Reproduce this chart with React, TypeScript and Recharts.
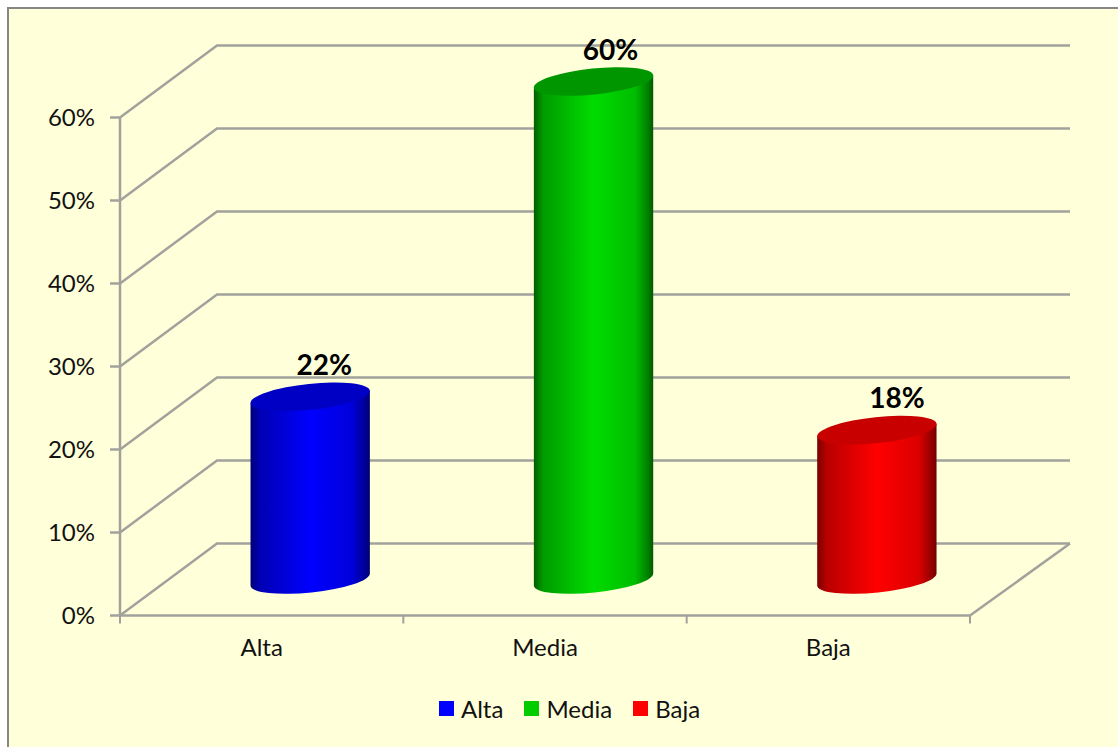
import { Bar, BarChart, CartesianGrid, LabelList, Legend, XAxis, YAxis } from "recharts";

const categories = ["Alta", "Media", "Baja"];
const altaValues = [22, null, null];
const mediaValues = [null, 60, null];
const bajaValues = [null, null, 18];
const yTicks = [0, 10, 20, 30, 40, 50, 60];

const rows = categories.map((name, i) => ({
  name,
  Alta: altaValues[i],
  Media: mediaValues[i],
  Baja: bajaValues[i],
}));

const FONT = "Lato, sans-serif";
const GRID = "#a2a29c";
const TEXT = "#111111";

// depth of the fake 3D box: back wall sits this far from the front plane
const DEPTH_X = 97;
const DEPTH_Y = 72;
const PLOT_BOTTOM = 615.5;

// cylinder tilt and the squash of its end caps
const TILT = 6;
const CAP_RY = 13;

// shades run left to right across the cylinder, at shadeStops
const shadeStops = [0, 0.08, 0.5, 0.85, 0.96, 1];
const palette = {
  Alta: {
    id: "cylAlta",
    shades: ["#000078", "#0000b4", "#0000ff", "#0000dc", "#000094", "#000070"],
    cap: "#0000c4",
    swatch: "#0000ff",
  },
  Media: {
    id: "cylMedia",
    shades: ["#005f00", "#009c00", "#00dc00", "#00bc00", "#007c00", "#005a00"],
    cap: "#009600",
    swatch: "#00cc00",
  },
  Baja: {
    id: "cylBaja",
    shades: ["#780000", "#b80000", "#ff0000", "#dc0000", "#940000", "#700000"],
    cap: "#c80000",
    swatch: "#ff0000",
  },
};

// labels sit a little right of the cylinder axis, like the 3D label placement in a spreadsheet chart
const labelNudge = { 22: 14, 60: 17, 18: 20 };

function Cylinder({ x, y, width, height, seriesName }: any) {
  if (!height || height <= 0) return null;
  const colors = palette[seriesName as keyof typeof palette];
  const cx = x + width / 2 + DEPTH_X / 2;
  const rx = width / 2;
  const dy = rx * Math.sin((TILT * Math.PI) / 180);
  const dx = rx * Math.cos((TILT * Math.PI) / 180);
  const top = y - DEPTH_Y / 2;
  const bottom = y + height - DEPTH_Y / 2;
  const body = [
    `M${cx - dx},${top + dy}`,
    `L${cx - dx},${bottom + dy}`,
    `A${rx},${CAP_RY} ${-TILT} 0 0 ${cx + dx},${bottom - dy}`,
    `L${cx + dx},${top - dy}`,
    "Z",
  ].join(" ");
  return (
    <g>
      <defs>
        <linearGradient id={colors.id} x1="0" y1="0" x2="1" y2="0">
          {shadeStops.map((offset, i) => (
            <stop key={offset} offset={offset} stopColor={colors.shades[i]} />
          ))}
        </linearGradient>
      </defs>
      <path d={body} fill={`url(#${colors.id})`} />
      <ellipse
        cx={cx}
        cy={top}
        rx={rx}
        ry={CAP_RY}
        fill={colors.cap}
        transform={`rotate(${-TILT} ${cx} ${top})`}
      />
    </g>
  );
}

function ValueLabel({ x, y, width, value }: any) {
  if (value == null) return null;
  const nudge = labelNudge[value as keyof typeof labelNudge] ?? 0;
  return (
    <text
      x={x + width / 2 + DEPTH_X / 2 + nudge}
      y={y - DEPTH_Y / 2 - 22}
      textAnchor="middle"
      fontFamily={FONT}
      fontWeight={700}
      fontSize={28}
      fill="#000000"
    >
      {value}%
    </text>
  );
}

// floor and wall lines: each tick runs back along the side wall, then across the back wall
function WallLine({ x1, y1, x2, y, height }: any) {
  const isFloor = y1 >= y + height - 1;
  const backY = y1 - DEPTH_Y;
  return (
    <g fill="none" stroke={GRID} strokeWidth={2.5}>
      <path d={`M${x1},${y1} L${x1 + DEPTH_X},${backY} L${x2 + 100},${backY}`} />
      {isFloor && <path d={`M${x2},${y1} L${x2 + 100},${backY}`} />}
    </g>
  );
}

function CategoryTick({ x, payload, index, visibleTicksCount, width }: any) {
  const band = width / visibleTicksCount;
  const last = index === visibleTicksCount - 1;
  return (
    <g>
      <line x1={x - band / 2} x2={x - band / 2} y1={PLOT_BOTTOM} y2={PLOT_BOTTOM + 8} stroke={GRID} strokeWidth={2} />
      {last && (
        <line x1={x + band / 2} x2={x + band / 2} y1={PLOT_BOTTOM} y2={PLOT_BOTTOM + 8} stroke={GRID} strokeWidth={2} />
      )}
      <text x={x} y={656} textAnchor="middle" fontFamily={FONT} fontSize={24} fill={TEXT}>
        {payload.value}
      </text>
    </g>
  );
}

function LegendRow({ payload }: any) {
  return (
    <div style={{ display: "flex", alignItems: "center", fontFamily: FONT, fontSize: 24, color: TEXT }}>
      {(payload ?? []).map((entry: any) => (
        <div key={entry.value} style={{ display: "flex", alignItems: "center", marginRight: 21 }}>
          <span
            style={{
              width: 15,
              height: 15,
              marginRight: 7,
              background: palette[entry.value as keyof typeof palette].swatch,
            }}
          />
          <span>{entry.value}</span>
        </div>
      ))}
    </div>
  );
}

export default function App() {
  return (
    <div style={{ position: "fixed", inset: 0, overflow: "hidden", background: "#ffffff" }}>
      <div
        style={{
          position: "absolute",
          left: 7,
          top: 7,
          width: 1120,
          height: 750,
          background: "#ffffd9",
          border: "2px solid #868686",
        }}
      />
      <div style={{ position: "absolute", left: 0, top: 0 }}>
        <BarChart
          width={1118}
          height={747}
          data={rows}
          margin={{ top: 117.5, right: 148, bottom: 101.5, left: 0 }}
          barCategoryGap={81.7}
        >
          <CartesianGrid vertical={false} horizontal={(props: any) => <WallLine key={props.key} {...props} />} />
          <XAxis
            dataKey="name"
            height={30}
            stroke={GRID}
            strokeWidth={2.5}
            tickLine={false}
            tick={(props: any) => <CategoryTick {...props} />}
            interval={0}
          />
          <YAxis
            width={120}
            domain={[0, 60]}
            ticks={yTicks}
            tickFormatter={(v: number) => `${v}%`}
            stroke={GRID}
            strokeWidth={2.5}
            tickSize={10}
            tickMargin={15}
            tick={{ fontFamily: FONT, fontSize: 24, fill: TEXT }}
          />
          <Legend
            verticalAlign="middle"
            align="center"
            layout="horizontal"
            content={(props: any) => <LegendRow {...props} />}
            itemSorter={null}
            wrapperStyle={{ left: 439, top: 694, width: 320 }}
          />
          {categories.map((name) => (
            <Bar
              key={name}
              dataKey={name}
              name={name}
              stackId="cylinders"
              isAnimationActive={false}
              fill={palette[name as keyof typeof palette].swatch}
              shape={(props: any) => <Cylinder {...props} seriesName={name} />}
            >
              <LabelList dataKey={name} content={(props: any) => <ValueLabel {...props} />} />
            </Bar>
          ))}
        </BarChart>
      </div>
    </div>
  );
}
